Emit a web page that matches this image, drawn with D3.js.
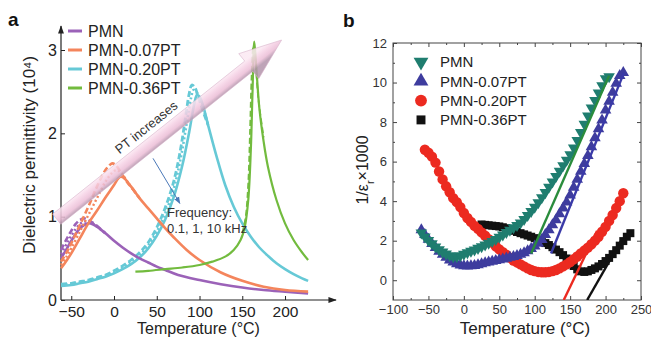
<!DOCTYPE html>
<html><head><meta charset="utf-8">
<script src="https://cdn.jsdelivr.net/npm/d3@7/dist/d3.min.js"></script>
<style>
body{margin:0;background:#fff;}
svg{display:block;font-family:"Liberation Sans",Arial,sans-serif;}
</style></head><body>
<svg id="c" width="651" height="339"></svg>
<script>
// ---------- Panel a data: [temperature °C, permittivity (10^4)] ----------
const aTicksX = [-50, 0, 50, 100, 150, 200];
const aTicksY = [0, 1, 2, 3];
const aLegend = ["PMN", "PMN-0.07PT", "PMN-0.20PT", "PMN-0.36PT"];
const aColors = ["#9b62b8", "#f4855c", "#66c9d6", "#72bb3e"];

const pmn10k = [[-62,0.50],[-55,0.62],[-50,0.71],[-45,0.79],[-40,0.86],[-35,0.90],[-30,0.92],[-25,0.91],[-20,0.88],[-10,0.80],[0,0.71],[10,0.63],[20,0.56],[30,0.50],[40,0.45],[50,0.40],[60,0.36],[75,0.30],[100,0.24],[125,0.19],[150,0.15],[175,0.12],[200,0.10],[227,0.08]];
const pmn1k  = [[-62,0.55],[-55,0.68],[-50,0.77],[-45,0.85],[-40,0.91],[-35,0.94],[-30,0.94],[-25,0.92],[-20,0.88],[-10,0.80]];
const pmn01k = [[-62,0.60],[-55,0.74],[-50,0.83],[-45,0.91],[-40,0.96],[-35,0.98],[-30,0.96],[-25,0.93],[-20,0.89],[-10,0.80]];

const pt07_10k = [[-62,0.38],[-55,0.48],[-50,0.56],[-40,0.74],[-30,0.92],[-20,1.07],[-10,1.23],[0,1.38],[5,1.46],[8,1.48],[12,1.46],[20,1.36],[30,1.22],[40,1.10],[50,0.98],[60,0.86],[70,0.75],[85,0.60],[100,0.48],[125,0.33],[150,0.23],[175,0.16],[200,0.12],[227,0.10]];
const pt07_1k  = [[-62,0.42],[-55,0.53],[-50,0.62],[-40,0.82],[-30,1.02],[-20,1.22],[-10,1.42],[-2,1.53],[3,1.56],[8,1.53],[15,1.43],[22,1.33],[30,1.22]];
const pt07_01k = [[-62,0.46],[-55,0.58],[-50,0.68],[-40,0.90],[-30,1.12],[-20,1.36],[-10,1.56],[-5,1.62],[-2,1.64],[2,1.62],[8,1.53],[15,1.42],[22,1.33],[30,1.22]];

const pt20_10k = [[-62,0.17],[-50,0.18],[-40,0.20],[-30,0.22],[-20,0.25],[-10,0.28],[0,0.32],[10,0.37],[20,0.43],[30,0.51],[40,0.62],[50,0.77],[60,0.97],[70,1.24],[80,1.62],[88,2.02],[94,2.36],[97,2.46],[100,2.44],[105,2.30],[110,2.10],[120,1.72],[130,1.38],[140,1.12],[150,0.92],[160,0.76],[170,0.63],[180,0.53],[190,0.44],[200,0.37],[210,0.31],[220,0.26],[227,0.23]];
const pt20_1k  = [[-62,0.18],[-50,0.19],[-40,0.21],[-30,0.23],[-20,0.26],[-10,0.29],[0,0.33],[10,0.39],[20,0.46],[30,0.54],[40,0.66],[50,0.82],[60,1.04],[70,1.34],[78,1.70],[85,2.12],[90,2.42],[93,2.52],[96,2.50],[100,2.42],[105,2.28],[110,2.10]];
const pt20_01k = [[-62,0.19],[-50,0.20],[-40,0.22],[-30,0.24],[-20,0.27],[-10,0.30],[0,0.35],[10,0.41],[20,0.48],[30,0.57],[40,0.69],[50,0.87],[60,1.11],[70,1.43],[78,1.82],[84,2.22],[88,2.48],[91,2.58],[94,2.56],[98,2.46],[103,2.30],[110,2.10]];

const pt36_10k = [[25,0.34],[40,0.35],[60,0.37],[80,0.39],[100,0.42],[115,0.46],[130,0.52],[140,0.60],[148,0.72],[153,0.88],[157,1.20],[160,1.80],[162,2.50],[164,3.10],[166,2.85],[170,2.30],[175,1.90],[180,1.60],[190,1.20],[200,0.92],[210,0.72],[220,0.57],[227,0.48]];
const pt36_01k = [[150,0.80],[154,1.00],[157,1.40],[159,2.00],[161,2.70],[163,3.05],[165,2.90],[169,2.40],[175,1.95]];

// annotation anchors (data coords)
const ptArrow = [[-67, 0.97], [196, 3.12]];
const freqArrow = [[45.6, 1.70], [77, 1.16]];

// ---------- Panel b data: [temperature °C, 1/eps_r x 1000] ----------
const bTicksX = [-100, -50, 0, 50, 100, 150, 200, 250];
const bTicksY = [0, 2, 4, 6, 8, 10, 12];
const bLegend = ["PMN", "PMN-0.07PT", "PMN-0.20PT", "PMN-0.36PT"];

const bPMN = [[-60,2.4],[-55,2.2],[-50,2.02],[-45,1.85],[-40,1.69],[-35,1.55],[-30,1.43],[-25,1.33],[-20,1.25],[-15,1.2],[-10,1.2],[-5,1.25],[0,1.32],[5,1.4],[10,1.47],[15,1.54],[20,1.62],[25,1.7],[30,1.79],[35,1.88],[40,1.97],[45,2.07],[50,2.18],[55,2.3],[60,2.42],[65,2.54],[70,2.66],[75,2.78],[80,2.9],[85,3.08],[90,3.28],[95,3.48],[100,3.7],[105,3.93],[110,4.18],[115,4.44],[120,4.71],[125,4.98],[130,5.25],[135,5.52],[140,5.8],[145,6.08],[150,6.36],[155,6.7],[160,7.08],[165,7.48],[170,7.9],[175,8.32],[180,8.72],[185,9.1],[190,9.48],[195,9.85],[200,10.2],[205,10.3]];
const bPT07 = [[-60,2.55],[-55,2.3],[-50,2.07],[-45,1.85],[-40,1.65],[-35,1.46],[-30,1.3],[-25,1.15],[-20,1.02],[-15,0.92],[-10,0.83],[-5,0.76],[0,0.72],[5,0.71],[10,0.72],[15,0.74],[20,0.78],[25,0.82],[30,0.87],[35,0.91],[40,0.95],[45,0.99],[50,1.03],[55,1.07],[60,1.11],[65,1.15],[70,1.19],[75,1.24],[80,1.3],[85,1.38],[90,1.48],[95,1.6],[100,1.72],[105,1.86],[110,2.05],[115,2.3],[120,2.55],[125,2.8],[130,3.05],[135,3.35],[140,3.65],[145,3.95],[150,4.3],[155,4.7],[160,5.1],[165,5.5],[170,5.9],[175,6.3],[180,6.75],[185,7.2],[190,7.65],[195,8.1],[200,8.6],[205,9.05],[210,9.5],[215,9.95],[220,10.35],[225,10.5]];
const bPT20 = [[-55,6.6],[-50,6.45],[-45,6.25],[-40,5.95],[-35,5.5],[-30,5.1],[-25,4.75],[-20,4.45],[-15,4.15],[-10,3.95],[-5,3.7],[0,3.4],[5,3.15],[10,2.95],[15,2.75],[20,2.6],[25,2.42],[30,2.25],[35,2.08],[40,1.9],[45,1.72],[50,1.56],[55,1.42],[60,1.28],[65,1.14],[70,1.0],[75,0.9],[80,0.8],[85,0.7],[90,0.6],[95,0.52],[100,0.46],[105,0.42],[110,0.4],[115,0.4],[120,0.42],[125,0.46],[130,0.52],[135,0.6],[140,0.7],[145,0.8],[150,0.92],[155,1.06],[160,1.2],[165,1.35],[170,1.5],[175,1.65],[180,1.82],[185,2.0],[190,2.2],[195,2.45],[200,2.7],[205,3.0],[210,3.3],[215,3.65],[220,4.0],[225,4.4]];
const bPT36 = [[25,2.82],[30,2.8],[35,2.78],[40,2.76],[45,2.74],[50,2.72],[55,2.68],[60,2.63],[65,2.57],[70,2.5],[75,2.44],[80,2.38],[85,2.32],[90,2.26],[95,2.2],[100,2.13],[105,2.05],[110,1.97],[115,1.88],[120,1.78],[125,1.67],[130,1.55],[135,1.42],[140,1.27],[145,1.1],[150,0.92],[155,0.72],[160,0.55],[165,0.45],[170,0.42],[175,0.45],[180,0.52],[185,0.6],[190,0.7],[195,0.82],[200,0.97],[205,1.13],[210,1.32],[215,1.52],[220,1.75],[225,1.98],[230,2.2],[235,2.38]];

const fitPMN  = [[95,1.35],[205,10.35]];
const fitPT07 = [[123,1.35],[226,10.5]];
const fitPT20 = [[141,-1.0],[188,2.5]];
const fitPT36 = [[174,-1.0],[222,2.0]];

// ================= drawing =================
const svg = d3.select("#c");
const defs = svg.append("defs");
const axisCol = "#444";

// ---------- Panel a ----------
const xA = d3.scaleLinear().domain([-62, 225]).range([61, 306.4]);
const yA = d3.scaleLinear().domain([0, 3]).range([300, 50]);
const gA = svg.append("g");

defs.append("marker").attr("id","axArrow").attr("viewBox","0 0 10 10").attr("refX",9).attr("refY",5)
  .attr("markerWidth",7).attr("markerHeight",7).attr("orient","auto")
  .append("path").attr("d","M0,1.5L10,5L0,8.5Z").attr("fill","#222");
defs.append("marker").attr("id","blueArrow").attr("viewBox","0 0 10 10").attr("refX",9).attr("refY",5)
  .attr("markerWidth",7).attr("markerHeight",7).attr("orient","auto")
  .append("path").attr("d","M0,1L10,5L0,9Z").attr("fill","#4a78b8");

// axes lines with arrows
gA.append("line").attr("x1",xA(-62)).attr("x2",xA(-62)+275).attr("y1",yA(0)).attr("y2",yA(0))
  .attr("stroke","#222").attr("stroke-width",1.2).attr("marker-end","url(#axArrow)");
gA.append("line").attr("x1",xA(-62)).attr("x2",xA(-62)).attr("y1",yA(0)).attr("y2",yA(3)-24)
  .attr("stroke","#222").attr("stroke-width",1.2).attr("marker-end","url(#axArrow)");

const axA_x = gA.append("g").attr("transform",`translate(0,${yA(0)})`)
  .call(d3.axisBottom(xA).tickValues(aTicksX).tickSize(-4).tickPadding(6).tickFormat(d3.format("d")));
axA_x.select(".domain").remove();
axA_x.selectAll("text").attr("font-size",15.5).attr("fill","#222");
axA_x.selectAll("line").attr("stroke","#222");

const axA_y = gA.append("g").attr("transform",`translate(${xA(-62)},0)`)
  .call(d3.axisLeft(yA).tickValues(aTicksY).tickSize(-4).tickPadding(4).tickFormat(d3.format("d")));
axA_y.select(".domain").remove();
axA_y.selectAll("text").attr("font-size",16).attr("fill","#222");
axA_y.selectAll("line").attr("stroke","#222");

const lineA = d3.line().x(d=>xA(d[0])).y(d=>yA(d[1])).curve(d3.curveCatmullRom.alpha(0.5));
const aSeries = [
  {d:pt20_10k,c:2,dash:null,w:2.6},{d:pt20_01k,c:2,dash:"6,3",w:2.8},{d:pt20_1k,c:2,dash:"2,2.5",w:2.6},
  {d:pmn10k,c:0,dash:null,w:2.6},{d:pmn01k,c:0,dash:"6,3",w:2.6},{d:pmn1k,c:0,dash:"2,2.5",w:2.4},
  {d:pt07_10k,c:1,dash:null,w:2.6},{d:pt07_01k,c:1,dash:"6,3",w:2.6},{d:pt07_1k,c:1,dash:"2,2.5",w:2.4},
  {d:pt36_10k,c:3,dash:null,w:2.2},{d:pt36_01k,c:3,dash:"6,3",w:1.8}
];
gA.selectAll("path.curve").data(aSeries).join("path").attr("class","curve")
  .attr("d",s=>lineA(s.d)).attr("fill","none").attr("stroke",s=>aColors[s.c])
  .attr("stroke-width",s=>s.w).attr("stroke-dasharray",s=>s.dash);

// pink "PT increases" arrow
{
  const p0=[xA(ptArrow[0][0]),yA(ptArrow[0][1])], p1=[xA(ptArrow[1][0]),yA(ptArrow[1][1])];
  const dx=p1[0]-p0[0], dy=p1[1]-p0[1], L=Math.hypot(dx,dy);
  const u=[dx/L,dy/L], n=[-u[1],u[0]];
  const w=6.5, hw=16, hl=42;
  const hb=[p1[0]-u[0]*hl,p1[1]-u[1]*hl];
  const P=(p,k)=>[p[0]+n[0]*k,p[1]+n[1]*k];
  const pts=[P(p0,-w),P(hb,-w),P(hb,-hw),p1,P(hb,hw),P(hb,w),P(p0,w)];
  const gr=defs.append("linearGradient").attr("id","pinkG").attr("gradientUnits","userSpaceOnUse")
    .attr("x1",P(p0,-w)[0]).attr("y1",P(p0,-w)[1]).attr("x2",P(p0,w)[0]).attr("y2",P(p0,w)[1]);
  [[0,"#fbe8f2"],[0.3,"#f6d3e6"],[0.7,"#ebbdd6"],[1,"#b394ab"]].forEach(s=>gr.append("stop").attr("offset",s[0]).attr("stop-color",s[1]));
  gA.append("polygon").attr("points",pts.map(p=>p.join(",")).join(" "))
    .attr("fill","url(#pinkG)").attr("fill-opacity",0.85).attr("stroke","#d9b3cb").attr("stroke-width",0.6);
  const ang=Math.atan2(dy,dx)*180/Math.PI;
  const tp=[xA(41),yA(2.03)];
  gA.append("text").attr("transform",`translate(${tp[0]},${tp[1]}) rotate(${ang})`)
    .attr("text-anchor","middle").attr("font-size",13).attr("fill","#333").text("PT increases");
}
// frequency arrow + text
gA.append("line").attr("x1",xA(freqArrow[0][0])).attr("y1",yA(freqArrow[0][1]))
  .attr("x2",xA(freqArrow[1][0])).attr("y2",yA(freqArrow[1][1]))
  .attr("stroke","#4a78b8").attr("stroke-width",1).attr("marker-end","url(#blueArrow)");
gA.append("text").attr("x",xA(62)).attr("y",yA(1.0)).attr("font-size",13).attr("fill","#333").text("Frequency:");
gA.append("text").attr("x",xA(62)).attr("y",yA(0.8)).attr("font-size",13).attr("fill","#333").text("0.1, 1, 10 kHz");

// legend a
const legA = gA.append("g");
aLegend.forEach((t,i)=>{
  const y = 31 + i*19;
  legA.append("line").attr("x1",68).attr("x2",82).attr("y1",y).attr("y2",y).attr("stroke",aColors[i]).attr("stroke-width",3);
  legA.append("text").attr("x",88).attr("y",y).attr("dy","0.35em").attr("font-size",16).attr("fill","#222").text(t);
});
// axis titles a
gA.append("text").attr("x",(xA(-62)+xA(-62)+275)/2).attr("y",334).attr("text-anchor","middle")
  .attr("font-size",16).attr("fill","#222").text("Temperature (°C)");
gA.append("text").attr("transform",`translate(35,155) rotate(-90)`).attr("text-anchor","middle")
  .attr("font-size",17).attr("fill","#222").text("Dielectric permittivity (10⁴)");
svg.append("text").attr("x",8).attr("y",26).attr("font-size",19).attr("font-weight","bold").attr("fill","#111").text("a");

// ---------- Panel b ----------
const xB = d3.scaleLinear().domain([-100, 250]).range([393, 641]);
const yB = d3.scaleLinear().domain([-1, 12]).range([300, 43]);
const gB = svg.append("g");
defs.append("clipPath").attr("id","clipB").append("rect")
  .attr("x",xB(-100)).attr("y",yB(12)).attr("width",xB(250)-xB(-100)).attr("height",yB(-1)-yB(12));

const minorX = d3.range(-75, 250, 50);
const minorY = d3.range(-1, 12, 2).filter(v=>v>-1);
function styleAx(g, labels){
  g.select(".domain").remove();
  g.selectAll("line").attr("stroke",axisCol);
  if(!labels) g.selectAll("text").remove();
  else g.selectAll("text").attr("font-size",13).attr("fill","#333");
}
const bx = gB.append("g").attr("transform",`translate(0,${yB(-1)})`)
  .call(d3.axisBottom(xB).tickValues(bTicksX).tickSize(-4).tickPadding(5).tickFormat(d3.format("d")));
styleAx(bx,true);
styleAx(gB.append("g").attr("transform",`translate(0,${yB(-1)})`).call(d3.axisBottom(xB).tickValues(minorX).tickSize(-2)),false);
styleAx(gB.append("g").attr("transform",`translate(0,${yB(12)})`).call(d3.axisTop(xB).tickValues(bTicksX).tickSize(-4)),false);
styleAx(gB.append("g").attr("transform",`translate(0,${yB(12)})`).call(d3.axisTop(xB).tickValues(minorX).tickSize(-2)),false);
const by = gB.append("g").attr("transform",`translate(${xB(-100)},0)`)
  .call(d3.axisLeft(yB).tickValues(bTicksY).tickSize(-4).tickPadding(6).tickFormat(d3.format("d")));
styleAx(by,true);
styleAx(gB.append("g").attr("transform",`translate(${xB(-100)},0)`).call(d3.axisLeft(yB).tickValues(minorY).tickSize(-2)),false);
styleAx(gB.append("g").attr("transform",`translate(${xB(250)},0)`).call(d3.axisRight(yB).tickValues(bTicksY).tickSize(-4)),false);
styleAx(gB.append("g").attr("transform",`translate(${xB(250)},0)`).call(d3.axisRight(yB).tickValues(minorY).tickSize(-2)),false);
gB.append("rect").attr("x",xB(-100)).attr("y",yB(12)).attr("width",xB(250)-xB(-100)).attr("height",yB(-1)-yB(12))
  .attr("fill","none").attr("stroke",axisCol).attr("stroke-width",1);

const plotB = gB.append("g").attr("clip-path","url(#clipB)");
const bStyles = [
  {data:bPMN, fit:fitPMN, col:"#1f7d6f", fitCol:"#2a8c3c", sym:d3.symbolTriangle, size:58, rot:180},
  {data:bPT07, fit:fitPT07, col:"#3e3c9e", fitCol:"#3a3aa8", sym:d3.symbolTriangle, size:58, rot:0},
  {data:bPT20, fit:fitPT20, col:"#ec2a20", fitCol:"#ec2a20", sym:d3.symbolCircle, size:85, rot:0},
  {data:bPT36, fit:fitPT36, col:"#111111", fitCol:"#111111", sym:d3.symbolSquare, size:64, rot:0}
];
const drawOrder = [3,2,1,0];
drawOrder.forEach(i=>{
  const s=bStyles[i];
  plotB.append("g").selectAll("path").data(s.data).join("path")
    .attr("d",d3.symbol().type(s.sym).size(s.size))
    .attr("transform",d=>`translate(${xB(d[0])},${yB(d[1])}) rotate(${s.rot})`)
    .attr("fill",s.col);
});
const lineB = d3.line().x(d=>xB(d[0])).y(d=>yB(d[1]));
drawOrder.forEach(i=>{
  const s=bStyles[i];
  plotB.append("path").attr("d",lineB(s.fit)).attr("stroke",s.fitCol).attr("stroke-width",2.4).attr("fill","none");
});

// legend b
bLegend.forEach((t,i)=>{
  const y = 62 + i*19.3, s=bStyles[i];
  gB.append("path").attr("d",d3.symbol().type(s.sym).size(s.sym===d3.symbolTriangle?95:(s.sym===d3.symbolCircle?110:80)))
    .attr("transform",`translate(421,${y}) rotate(${s.rot})`).attr("fill",s.col);
  gB.append("text").attr("x",440).attr("y",y).attr("dy","0.35em").attr("font-size",15).attr("fill","#222").text(t);
});
// axis titles b
gB.append("text").attr("x",525).attr("y",334).attr("text-anchor","middle")
  .attr("font-size",17).attr("fill","#222").text("Temperature (°C)");
const yt = gB.append("text").attr("transform",`translate(368,170) rotate(-90)`)
  .attr("text-anchor","middle").attr("font-size",16).attr("fill","#222");
yt.append("tspan").text("1/ε");
yt.append("tspan").attr("font-size",11).attr("baseline-shift","sub").text("r");
yt.append("tspan").text("×1000");
svg.append("text").attr("x",343).attr("y",27).attr("font-size",19).attr("font-weight","bold").attr("fill","#111").text("b");
</script>
</body></html>
